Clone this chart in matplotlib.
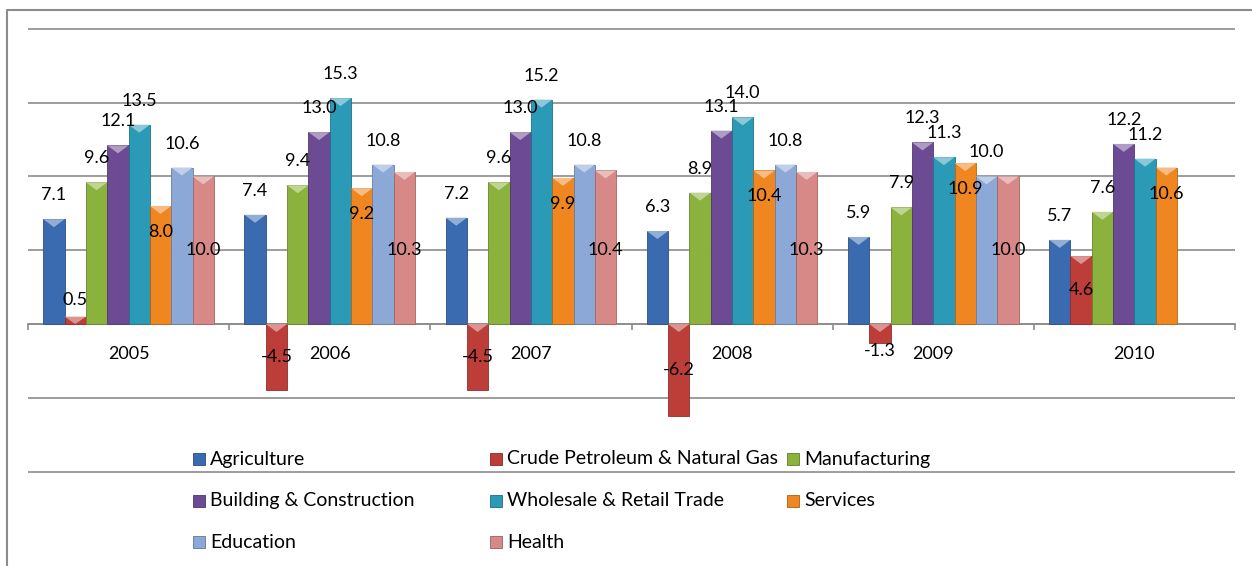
import matplotlib.pyplot as plt
from matplotlib.colors import to_rgb
from matplotlib.lines import Line2D
from matplotlib.patches import Polygon, Rectangle

# Данные: годовой рост по отраслям, %
years = ["2005", "2006", "2007", "2008", "2009", "2010"]
agriculture = [7.1, 7.4, 7.2, 6.3, 5.9, 5.7]
crude = [0.5, -4.5, -4.5, -6.2, -1.3, 4.6]
manufacturing = [9.6, 9.4, 9.6, 8.9, 7.9, 7.6]
building = [12.1, 13.0, 13.0, 13.1, 12.3, 12.2]
wholesale = [13.5, 15.3, 15.2, 14.0, 11.3, 11.2]
services = [8.0, 9.2, 9.9, 10.4, 10.9, 10.6]
education = [10.6, 10.8, 10.8, 10.8, 10.0, None]
health = [10.0, 10.3, 10.4, 10.3, 10.0, None]

series_names = [
    "Agriculture",
    "Crude Petroleum & Natural Gas",
    "Manufacturing",
    "Building & Construction",
    "Wholesale & Retail Trade",
    "Services",
    "Education",
    "Health",
]
series_values = [agriculture, crude, manufacturing, building,
                 wholesale, services, education, health]
colors = ["#3A6BB0", "#BD3D39", "#8AB23C", "#6C4B94",
          "#2B9AB7", "#F0861F", "#8CA8D6", "#D68987"]

plt.rcParams["font.family"] = ["Lato", "DejaVu Sans"]

W, H = 1252, 566
fig = plt.figure(figsize=(W / 100, H / 100), dpi=100)
ax = fig.add_axes([28 / W, 0.1615, 1207 / W, 0.7929])

GRID = "#8c8c8c"
LABEL_FS = 13
LEGEND_FS = 14


def lighten(c, k):
    r, g, b = to_rgb(c)
    return (r + (1 - r) * k, g + (1 - g) * k, b + (1 - b) * k)


def darken(c, k):
    r, g, b = to_rgb(c)
    return (r * (1 - k), g * (1 - k), b * (1 - k))


bar_w = 0.106
px = 14.76  # пикселей на единицу по оси Y
for k, (name, vals, col) in enumerate(zip(series_names, series_values, colors)):
    for i, v in enumerate(vals):
        if v is None:
            continue
        x = i + (k - 3.5) * bar_w
        ax.bar(x, v, width=bar_w, color=col, edgecolor=darken(col, 0.25),
               linewidth=0.6, zorder=3)
        # светлая фаска сверху столбца
        top = max(v, 0)
        d = min(8 / px, abs(v))
        ax.add_patch(Polygon([(x - bar_w / 2, top), (x + bar_w / 2, top),
                              (x, top - d)], closed=True,
                             facecolor=lighten(col, 0.45), edgecolor="none",
                             zorder=4))

        # подписи значений
        label = f"{v:.1f}"
        if name == "Services":
            ax.annotate(label, (x, v), xytext=(0, -26), textcoords="offset pixels",
                        ha="center", va="center", fontsize=LABEL_FS, zorder=5)
        elif name == "Health":
            ax.text(x, 5, label, ha="center", va="center", fontsize=LABEL_FS,
                    zorder=5)
        elif name.startswith("Crude"):
            y = max(v / 2, 1.6) if v > 0 else min(v / 2, -1.8)
            ax.text(x, y, label, ha="center", va="center", fontsize=LABEL_FS,
                    zorder=5)
        else:
            ax.annotate(label, (x, v), xytext=(0, 24), textcoords="offset pixels",
                        ha="center", va="center", fontsize=LABEL_FS, zorder=5)

# подписи категорий
for i, yr in enumerate(years):
    ax.annotate(yr, (i, 0), xytext=(0, -30), textcoords="offset pixels",
                ha="center", va="center", fontsize=LABEL_FS)

ax.set_xlim(-0.5, len(years) - 0.5)
ax.set_ylim(-10.2, 20.2)
ax.set_yticks(range(-10, 25, 5))
ax.yaxis.grid(True, color=GRID, linewidth=1.2, zorder=0)
ax.tick_params(axis="y", length=0, labelleft=False)
ax.set_xticks([i - 0.5 for i in range(len(years) + 1)])
ax.tick_params(axis="x", direction="out", length=4, color=GRID, width=1.2,
               labelbottom=False)
for s in ["top", "right", "left"]:
    ax.spines[s].set_visible(False)
ax.spines["bottom"].set_position(("data", 0))
ax.spines["bottom"].set_color(GRID)
ax.spines["bottom"].set_linewidth(1.2)
ax.spines["bottom"].set_zorder(2)

# легенда вручную: три колонки равной ширины
for i, (name, col) in enumerate(zip(series_names, colors)):
    row, c = divmod(i, 3)
    mx = 193 + c * 297
    my = 459 + row * 41.5
    fig.add_artist(Rectangle((mx / W, 1 - (my + 6) / H), 12 / W, 12 / H,
                             transform=fig.transFigure, facecolor=col,
                             edgecolor=darken(col, 0.3), linewidth=0.6))
    fig.text((mx + 17) / W, 1 - my / H, name, va="center", ha="left",
             fontsize=LEGEND_FS)

# рамка диаграммы (видны верх и левый край)
fig.add_artist(Line2D([7 / W, 7 / W, 1], [0, 1 - 10 / H, 1 - 10 / H],
                      transform=fig.transFigure, color="#8c8c8c", linewidth=1.5))

fig.savefig("out.png", dpi=100)
